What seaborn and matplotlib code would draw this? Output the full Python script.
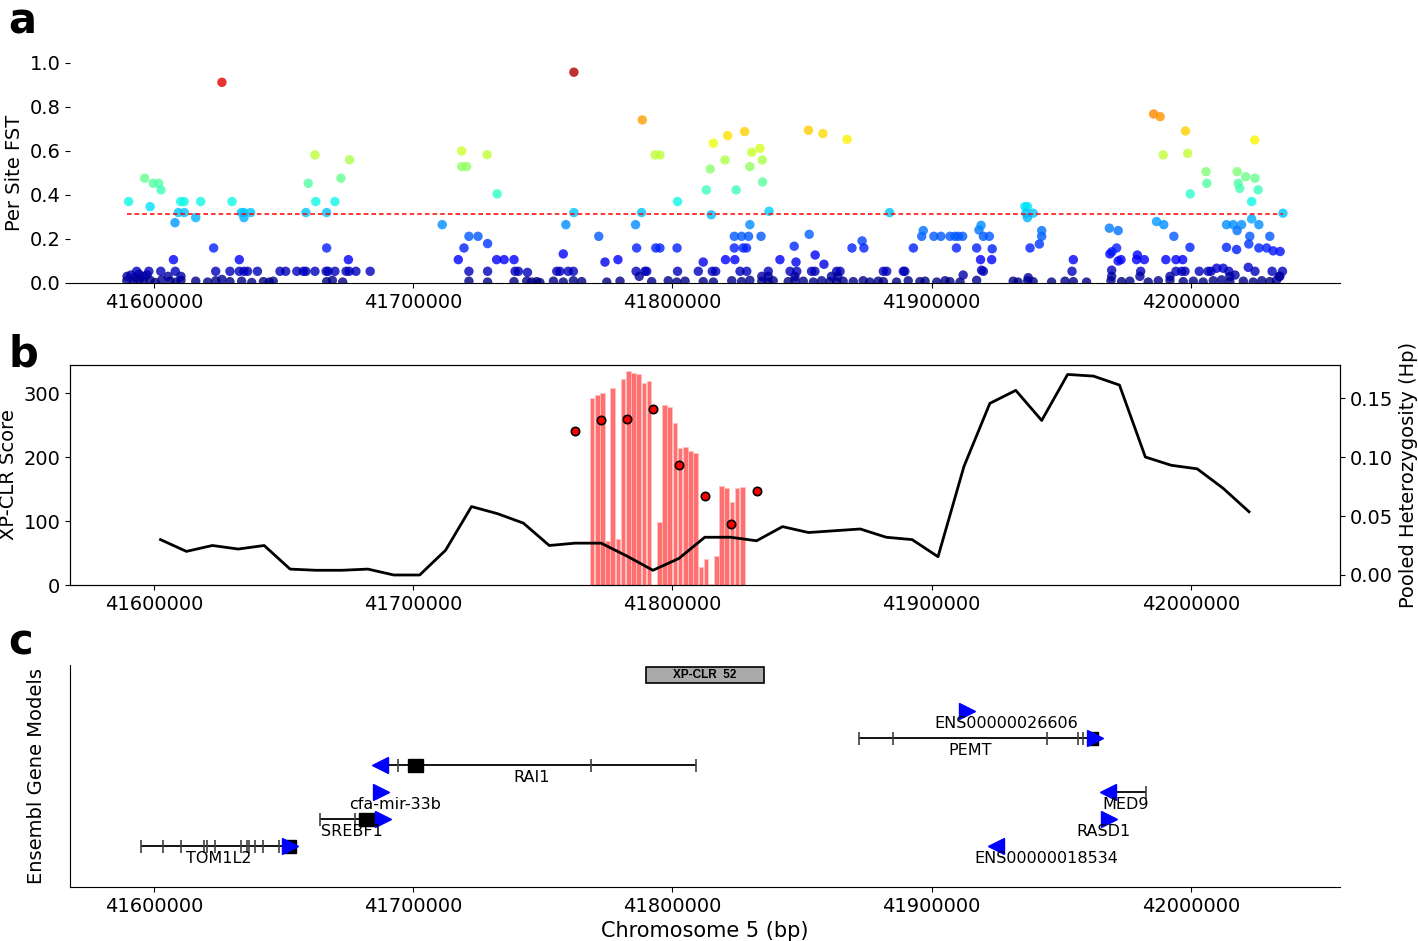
import numpy as np
import pandas as pd
import matplotlib
matplotlib.use("Agg")
import matplotlib.pyplot as plt
import seaborn as sns
from matplotlib.patches import Rectangle

# ---------------- panel a: per-site FST ----------------
# left block (41.59 - 41.75 Mb), mid/high values
a_pos = [41626200, 41590200, 41596400, 41598500, 41599700, 41601800, 41602700, 41608100, 41609400, 41611700,
         41610300, 41611600, 41616100, 41618000, 41607500, 41623000, 41630100, 41632900, 41633700, 41634700,
         41637300, 41634700, 41658600, 41659500, 41662100, 41662400, 41666600, 41666600, 41669800, 41672100,
         41675000, 41675400, 41711200, 41718700, 41718700, 41720600, 41728500, 41732400, 41719600, 41721500,
         41725000, 41728700, 41717400, 41732200, 41735100, 41738900, 41721500, 41728700, 41739300, 41740600,
         41744100]
a_fst = [0.912, 0.370, 0.476, 0.347, 0.453, 0.453, 0.423, 0.274, 0.320, 0.320,
         0.370, 0.370, 0.297, 0.370, 0.106, 0.159, 0.370, 0.106, 0.320, 0.320,
         0.320, 0.297, 0.320, 0.453, 0.582, 0.370, 0.320, 0.159, 0.370, 0.476,
         0.106, 0.560, 0.265, 0.600, 0.529, 0.529, 0.583, 0.405, 0.159, 0.212,
         0.212, 0.179, 0.106, 0.106, 0.106, 0.106, 0.053, 0.053, 0.053, 0.053,
         0.048]

# middle block (41.75 - 41.91 Mb)
b_pos = [41762000, 41788400, 41793300, 41795200, 41802000, 41813100, 41814600, 41815800, 41820300, 41821300,
         41824600, 41827900, 41829900, 41830600, 41833800, 41834700, 41834800, 41837300, 41852500, 41858100,
         41867400, 41883800, 41762000, 41788100, 41815000, 41758900, 41785800, 41829900, 41771600, 41786200,
         41793600, 41795200, 41801800, 41823900, 41826700, 41829400, 41834200, 41823900, 41827300, 41828600,
         41852800, 41847000, 41757900, 41774000, 41779000, 41811900, 41820500, 41824100, 41841500, 41847700,
         41855100, 41858500, 41869300, 41873200, 41873900, 41893000, 41896200, 41896800, 41900900, 41903600,
         41907100]
b_fst = [0.958, 0.741, 0.582, 0.582, 0.370, 0.423, 0.518, 0.635, 0.559, 0.670,
         0.423, 0.688, 0.529, 0.594, 0.612, 0.559, 0.459, 0.326, 0.694, 0.679,
         0.653, 0.320, 0.320, 0.320, 0.310, 0.265, 0.265, 0.265, 0.212, 0.159,
         0.159, 0.159, 0.159, 0.212, 0.212, 0.212, 0.212, 0.159, 0.159, 0.159,
         0.221, 0.167, 0.132, 0.095, 0.106, 0.095, 0.106, 0.106, 0.106, 0.095,
         0.127, 0.085, 0.159, 0.191, 0.159, 0.159, 0.212, 0.238, 0.212, 0.212,
         0.212]

# right block (41.90 - 42.04 Mb)
c_pos = [41985700, 41988200, 41998000, 41989400, 41998800, 42024700, 42005900, 42006200, 41999800, 42017900,
         42021200, 42024800, 42018300, 42018900, 42026000, 42023500, 42035600, 42023500, 41936000, 41937000,
         41936400, 41939200, 41937000, 41986800, 41989600, 42013800, 42016400, 42019600, 42026300, 42017900,
         42022800, 42030500, 42022400, 41968600, 41972000, 41993500, 41999700, 42013800, 42017700, 42026300,
         42029300, 42031800, 42034500, 41968800, 41969600, 41971400, 41972000, 41973100, 41979400, 41979100,
         41982100, 41990400, 41994300, 41996900, 41909000, 41910300, 41912000, 41909600, 41917400, 41918300,
         41919100, 41920000, 41922300, 41918900, 41923200, 41923400, 41938000, 41941600, 41942500, 41942500,
         41954700]
c_fst = [0.768, 0.756, 0.691, 0.582, 0.589, 0.650, 0.506, 0.453, 0.405, 0.506,
         0.483, 0.476, 0.453, 0.430, 0.423, 0.370, 0.317, 0.291, 0.347, 0.347,
         0.317, 0.317, 0.297, 0.279, 0.265, 0.265, 0.265, 0.265, 0.265, 0.238,
         0.212, 0.212, 0.177, 0.249, 0.238, 0.212, 0.162, 0.162, 0.152, 0.159,
         0.159, 0.146, 0.143, 0.132, 0.142, 0.159, 0.100, 0.106, 0.127, 0.106,
         0.106, 0.106, 0.106, 0.106, 0.212, 0.212, 0.212, 0.159, 0.159, 0.241,
         0.262, 0.212, 0.212, 0.106, 0.106, 0.155, 0.159, 0.177, 0.212, 0.238,
         0.106]

# low-value rows (~0.03 - 0.07)
low_pos = [41593300, 41598000, 41602600, 41608200, 41623800, 41629300, 41632900, 41634700, 41636100, 41639900,
           41648600, 41650800, 41655100, 41657600, 41658600, 41662100, 41666400, 41667200, 41669800, 41674100,
           41675300, 41677900, 41683400, 41755400, 41756600, 41759800, 41761800, 41786000, 41789400, 41790100,
           41802000, 41810000, 41815400, 41816700, 41826100, 41828700, 41837000, 41845400, 41848000, 41853700,
           41855000, 41863400, 41864700, 41881400, 41882700, 41889100, 41889700, 41919300, 41920000, 41954200,
           41969500, 41980700, 41994300, 41996500, 41997800, 42003300, 42006700, 42007800, 42010000, 42012500,
           42014700, 42017100, 42022200, 42024800, 42031400, 42035400, 42034400, 41912200, 41589600, 41591100,
           41592700, 41594200, 41595800, 41597300, 41605400, 41610400, 41787200, 41834500, 41837000, 41847300,
           41861400, 41863800, 41937300, 41969500, 41980400, 41992000, 42015100, 42034100]
low_fst = [0.053, 0.053, 0.053, 0.053, 0.053, 0.053, 0.053, 0.053, 0.053, 0.053,
           0.053, 0.053, 0.053, 0.053, 0.053, 0.053, 0.053, 0.053, 0.053, 0.053,
           0.053, 0.053, 0.053, 0.053, 0.053, 0.053, 0.053, 0.053, 0.053, 0.053,
           0.053, 0.053, 0.053, 0.053, 0.053, 0.053, 0.053, 0.053, 0.053, 0.053,
           0.053, 0.053, 0.053, 0.053, 0.053, 0.053, 0.053, 0.058, 0.053, 0.053,
           0.058, 0.053, 0.053, 0.053, 0.053, 0.053, 0.053, 0.053, 0.067, 0.067,
           0.053, 0.036, 0.071, 0.053, 0.053, 0.053, 0.030, 0.036, 0.030, 0.036,
           0.024, 0.040, 0.030, 0.036, 0.030, 0.030, 0.030, 0.030, 0.030, 0.030,
           0.030, 0.030, 0.024, 0.030, 0.030, 0.030, 0.030, 0.030]

# near-zero row
zero_pos = [41589500, 41592000, 41594300, 41595900, 41598500, 41600400, 41603000, 41606200, 41608500, 41610400,
            41616100, 41620700, 41623800, 41626200, 41629300, 41633800, 41637700, 41642200, 41644500, 41646000,
            41666600, 41668800, 41672800, 41721500, 41728700, 41738900, 41743800, 41745700, 41747600, 41748900,
            41754100, 41757900, 41761800, 41765000, 41774700, 41779800, 41792000, 41798400, 41801700, 41804900,
            41811900, 41815800, 41822900, 41826700, 41829900, 41834500, 41837000, 41838900, 41844700, 41847300,
            41850500, 41854400, 41857600, 41860800, 41863400, 41865900, 41869800, 41873600, 41876200, 41879400,
            41881400, 41886500, 41891000, 41895500, 41897500, 41902000, 41905200, 41907100, 41911000, 41917400,
            41931500, 41933400, 41937100, 41939200, 41946300, 41951500, 41954700, 41959800, 41969200, 41973300,
            41976500, 41983600, 41987500, 41992000, 41997100, 42001000, 42004800, 42008700, 42011900, 42015100,
            42020300, 42024100, 42027400, 42030500, 42033100]
zero_fst = [0.010, 0.004, 0.016, 0.006, 0.012, 0.002, 0.014, 0.008, 0.004, 0.012,
            0.008, 0.004, 0.010, 0.016, 0.006, 0.008, 0.002, 0.006, 0.004, 0.008,
            0.006, 0.012, 0.004, 0.008, 0.004, 0.006, 0.008, 0.004, 0.006, 0.002,
            0.008, 0.004, 0.010, 0.006, 0.004, 0.008, 0.006, 0.010, 0.004, 0.008,
            0.006, 0.004, 0.010, 0.006, 0.012, 0.008, 0.004, 0.010, 0.006, 0.012,
            0.008, 0.004, 0.010, 0.006, 0.004, 0.008, 0.006, 0.010, 0.004, 0.008,
            0.006, 0.004, 0.010, 0.006, 0.008, 0.004, 0.010, 0.006, 0.004, 0.012,
            0.008, 0.004, 0.010, 0.006, 0.004, 0.008, 0.006, 0.004, 0.010, 0.006,
            0.008, 0.004, 0.010, 0.012, 0.006, 0.008, 0.004, 0.010, 0.014, 0.006,
            0.008, 0.004, 0.010, 0.006, 0.012]

fst_cutoff = 0.314

# ---------------- panel b: XP-CLR + pooled heterozygosity ----------------
bar_pos = [41769000 + 2000 * i for i in range(30)]
bar_score = [291.7, 296.9, 300.5, 68.8, 307.3, 71.4, 321.4, 334.4, 331.8, 329.7,
             315.1, 318.2, 0.0, 98.4, 281.3, 278.6, 252.6, 213.5, 215.1, 209.9,
             206.8, 28.6, 40.1, 2.0, 45.3, 154.7, 151.0, 130.2, 151.0, 153.6]

xpclr_pos = [41762500, 41772500, 41782500, 41792500, 41802500, 41812500, 41822500, 41832500]
xpclr_score = [240, 258, 260, 275, 187, 139, 96, 147]

hp_pos = [41602500 + 10000 * i for i in range(43)]
hp_vals = [0.030, 0.020, 0.025, 0.022, 0.025, 0.005, 0.004, 0.004, 0.005, 0.000,
           0.000, 0.021, 0.058, 0.052, 0.044, 0.025, 0.027, 0.027, 0.016, 0.004,
           0.014, 0.032, 0.032, 0.029, 0.041, 0.036, 0.0375, 0.039, 0.032, 0.030,
           0.0155, 0.092, 0.1455, 0.1565, 0.131, 0.170, 0.1686, 0.161, 0.100, 0.093,
           0.090, 0.0735, 0.0536]

# ---------------- panel c: gene models ----------------
gene_names = ["TOM1L2", "SREBF1", "cfa-mir-33b", "RAI1", "PEMT",
              "ENS00000026606", "MED9", "RASD1", "ENS00000018534"]
gene_rows = [1.5, 2.5, 3.5, 4.5, 5.5, 6.5, 3.5, 2.5, 1.5]
gene_start = [41595100, 41664000, None, 41689800, 41872100, None, 41970100, None, None]
gene_end = [41652500, 41686000, None, 41809100, 41963200, None, 41982900, None, None]
gene_strand = [">", ">", ">", "<", ">", ">", "<", ">", "<"]
arrow_x = [41652500, 41688300, 41687500, 41687200, 41963200, 41913600, 41968100, 41968300, 41924800]
label_x = [41624800, 41676400, 41693000, 41745800, 41914800, 41929000, 41975000, 41966200, 41944400]
gene_ticks = [
    [41595100, 41603400, 41610300, 41619300, 41620300, 41623500, 41633700, 41635800, 41636500,
     41639000, 41642200, 41648200],
    [41664000, 41677500],
    [],
    [41694000, 41768600, 41809100],
    [41872100, 41885000, 41944400, 41956400, 41958300],
    [],
    [41982900],
    [],
    [41927400],
]
gene_blocks = [(41650300, 41654800), (41679200, 41685600), None, (41698000, 41703700),
               (41960700, 41964300), None, None, None, None]
xpclr_region = (41789800, 41835300)
xpclr_label = "XP-CLR  52"

xlim = (41567600, 42057600)
xticks = [41600000, 41700000, 41800000, 41900000, 42000000]

plt.rcParams["font.family"] = ["DejaVu Sans"]
fig = plt.figure(figsize=(14.18, 9.41), dpi=100)

ax_a = fig.add_axes([0.0494, 0.6993, 0.8956, 0.2338])
ax_b = fig.add_axes([0.0494, 0.3783, 0.8956, 0.2338])
ax_c = fig.add_axes([0.0494, 0.0574, 0.8956, 0.2359])

# panel a
df_a = pd.DataFrame({
    "pos": zero_pos + low_pos + a_pos + b_pos + c_pos,
    "fst": zero_fst + low_fst + a_fst + b_fst + c_fst,
})
sns.scatterplot(data=df_a, x="pos", y="fst", hue="fst", palette=matplotlib.colormaps["jet"],
                hue_norm=(0, 1), s=46, alpha=0.8, linewidth=0, legend=False, ax=ax_a)
ax_a.hlines(fst_cutoff, min(df_a["pos"]), max(df_a["pos"]), colors="red",
            linestyles=(0, (3, 2)), linewidth=1.1)
ax_a.set_ylim(0, 1.0)
ax_a.set_yticks([0.0, 0.2, 0.4, 0.6, 0.8, 1.0])
ax_a.set_ylabel("Per Site FST", fontsize=14)
ax_a.set_xlabel("")
for s in ["top", "right", "left"]:
    ax_a.spines[s].set_visible(False)

# panel b
ax_b.bar(bar_pos, bar_score, width=1800, color="#ff7070", edgecolor="#ffc4c4",
         linewidth=0.5, zorder=1)
sns.scatterplot(x=xpclr_pos, y=xpclr_score, color="red", edgecolor="black", s=36,
                linewidth=1.2, ax=ax_b, zorder=3)
ax_b.set_ylim(0, 343.75)
ax_b.set_yticks([0, 100, 200, 300])
ax_b.set_ylabel("XP-CLR Score", fontsize=14)
ax_b2 = ax_b.twinx()
sns.lineplot(x=hp_pos, y=hp_vals, color="black", linewidth=2, ax=ax_b2)
ax_b2.set_ylim(-0.0085, 0.178)
ax_b2.set_yticks([0.00, 0.05, 0.10, 0.15])
ax_b2.set_yticklabels(["0.00", "0.05", "0.10", "0.15"])
ax_b2.set_ylabel("Pooled Heterozygosity (Hp)", fontsize=14)
ax_b2.tick_params(labelsize=14)

# panel c
for i, name in enumerate(gene_names):
    row = gene_rows[i]
    if gene_start[i] is not None:
        ax_c.hlines(row, gene_start[i], gene_end[i], colors="black", linewidth=1.3, zorder=2)
    for t in gene_ticks[i]:
        ax_c.vlines(t, row - 0.24, row + 0.24, colors="0.25", linewidth=1.2, zorder=2)
    if gene_blocks[i] is not None:
        b0, b1 = gene_blocks[i]
        ax_c.add_patch(Rectangle((b0, row - 0.25), b1 - b0, 0.5, facecolor="black",
                                 edgecolor="black", zorder=3))
    ax_c.plot([arrow_x[i]], [row], marker=gene_strand[i], color="blue", markersize=11,
              linestyle="none", zorder=4)
    ax_c.text(label_x[i], row - 0.46, name, ha="center", va="center", fontsize=11.5, zorder=5)

x0, x1 = xpclr_region
ax_c.add_patch(Rectangle((x0, 7.56), x1 - x0, 0.59, facecolor="#aaaaaa",
                         edgecolor="black", linewidth=1.2))
ax_c.text((x0 + x1) / 2, 7.855, xpclr_label, ha="center", va="center", fontsize=8.5,
          fontweight="bold", family=["Liberation Sans", "DejaVu Sans"])
ax_c.set_ylim(0, 8.22)
ax_c.set_yticks([])
ax_c.set_ylabel("Ensembl Gene Models", fontsize=14, labelpad=17)
ax_c.set_xlabel("Chromosome 5 (bp)", fontsize=15)
for s in ["top", "right"]:
    ax_c.spines[s].set_visible(False)

for ax in [ax_a, ax_b, ax_c]:
    ax.set_xlim(*xlim)
    ax.set_xticks(xticks)
    ax.set_xticklabels([str(t) for t in xticks])
    ax.tick_params(labelsize=14)

fig.text(0.006, 0.964, "a", fontsize=30, fontweight="bold", va="baseline")
fig.text(0.006, 0.610, "b", fontsize=30, fontweight="bold", va="baseline")
fig.text(0.006, 0.304, "c", fontsize=30, fontweight="bold", va="baseline")

fig.savefig("out.png", dpi=100)
